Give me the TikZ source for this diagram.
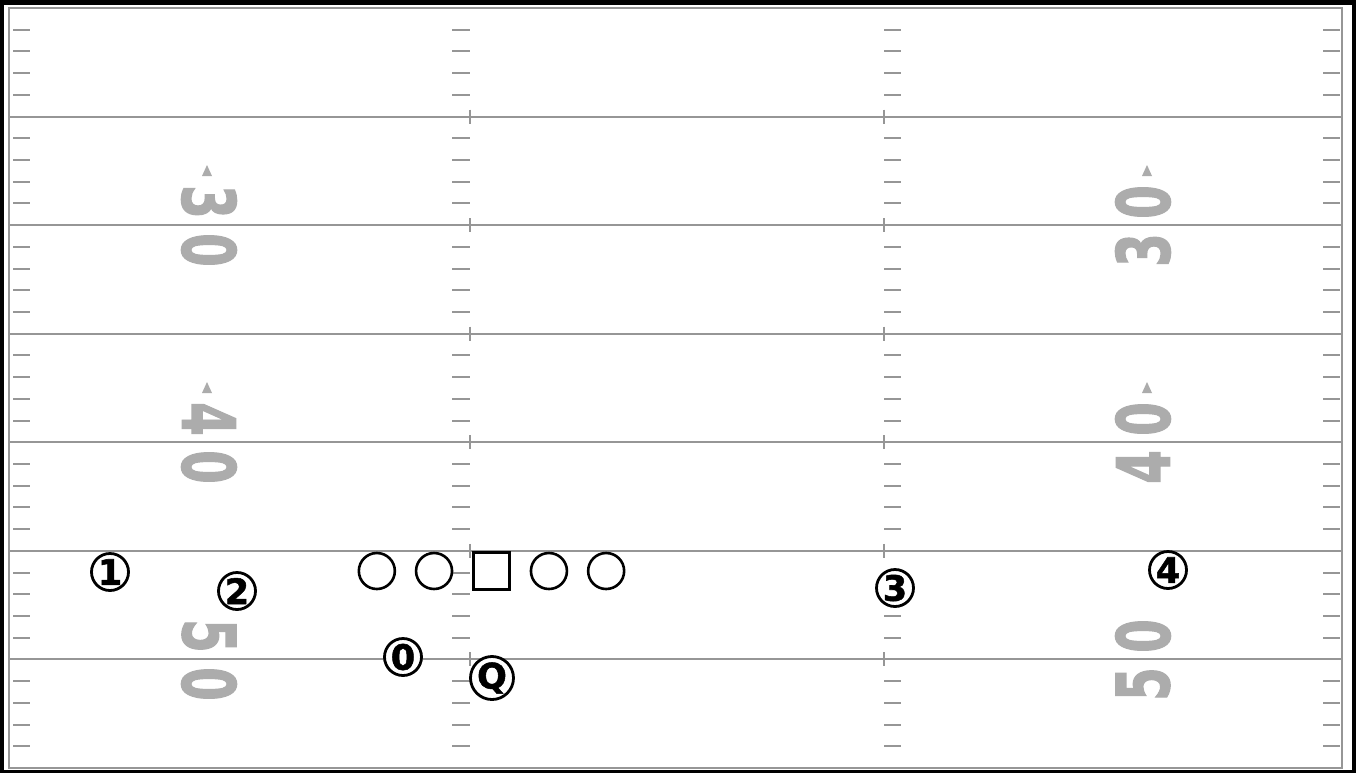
\documentclass[tikz,border=0pt]{standalone}
\usepackage{graphicx}
\usepackage{fontspec}
\setmainfont{DejaVu Sans}
\newfontfamily\playerfont{DejaVu Sans Bold}[FakeBold=1.5]
\newfontfamily\numberfont{DejaVu Sans Bold}[FakeBold=2]
\usepackage{tikz}
\usetikzlibrary{
  positioning
}
\definecolor{LineGray}{RGB}{150,150,150}
\definecolor{NumberGray}{RGB}{172,172,172}
\tikzset{
  yardline/.style={draw=LineGray,line width=1pt},
  hashtick/.style={draw=LineGray,line width=1pt},
  fieldnum/.style={text=NumberGray,inner sep=0pt,font=\numberfont\fontsize{36.5}{36.5}\selectfont},
  dirmark/.style={fill=NumberGray},
  lineman/.style={circle,draw=black,line width=1.3pt,fill=white,minimum size=18pt,inner sep=0pt},
  snapper/.style={rectangle,draw=black,line width=1.3pt,fill=white,minimum size=18.25pt,inner sep=0pt},
  skill/.style={circle,draw=black,line width=1.4pt,fill=white,minimum size=18.5pt,inner sep=0pt,font=\playerfont\fontsize{17.5}{17.5}\selectfont}
}

\begin{document}
\begin{tikzpicture}[x=0.5pt,y=-0.5pt,node distance=9.3pt]
\useasboundingbox (0,0) rectangle (1356,773);
\fill[black] (0,0) rectangle (1356,773);
\fill[white] (4,5) rectangle (1352,770);
\draw[yardline] (9,8) rectangle (1342,768);

% Yard lines with the hash crossings.
\foreach \k in {1,...,6}{
  \pgfmathsetmacro\yl{8+108.57*\k}
  \draw[yardline] (9,\yl) -- (1342,\yl);
  \draw[hashtick] (470,\yl-7) -- (470,\yl+7);
  \draw[hashtick] (884,\yl-7) -- (884,\yl+7);
}

% One-yard ticks: sidelines and hashes.
\foreach \k in {0,...,6}{
  \foreach \j in {1,...,4}{
    \pgfmathsetmacro\ty{8+108.57*\k+21.714*\j}
    \draw[hashtick] (13,\ty) -- (30,\ty);
    \draw[hashtick] (452,\ty) -- (470,\ty);
    \draw[hashtick] (884,\ty) -- (901,\ty);
    \draw[hashtick] (1323,\ty) -- (1340,\ty);
  }
}

% Field numbers.
\foreach \yl/\a/\b in {226/3/0,443/4/0,660/5/0}{
  \node[fieldnum,rotate=-90] (la\a) at (209,\yl-24) {\scalebox{.66}[1]{\a}};
  \node[fieldnum,rotate=-90] (lb\a) at (209,\yl+24) {\scalebox{.66}[1]{\b}};
  \node[fieldnum,rotate=90] (rb\a) at (1143,\yl-24) {\scalebox{.66}[1]{\b}};
  \node[fieldnum,rotate=90] (ra\a) at (1143,\yl+24) {\scalebox{.66}[1]{\a}};
}
\foreach \yl in {226,443}{
  \fill[dirmark] (207,\yl-61) -- (212,\yl-50) -- (202,\yl-50) -- cycle;
  \fill[dirmark] (1147,\yl-61) -- (1152,\yl-50) -- (1142,\yl-50) -- cycle;
}

% Offensive line.
\node[snapper] (ctr) at (491.5,571) {};
\node[lineman, left=of ctr] (lg) {};
\node[lineman, left=of lg] (lt) {};
\node[lineman, right=of ctr] (rg) {};
\node[lineman, right=of rg] (rt) {};

% Backs and receivers.
\node[skill] (p1) at (110,572) {1};
\node[skill] (p2) at (237,591) {2};
\node[skill] (p3) at (895,588) {3};
\node[skill] (p4) at (1168,570) {4};
\node[skill] (p0) at (403,657) {0};
\node[skill] (qb) at (492,678) {Q};
\end{tikzpicture}
\end{document}
